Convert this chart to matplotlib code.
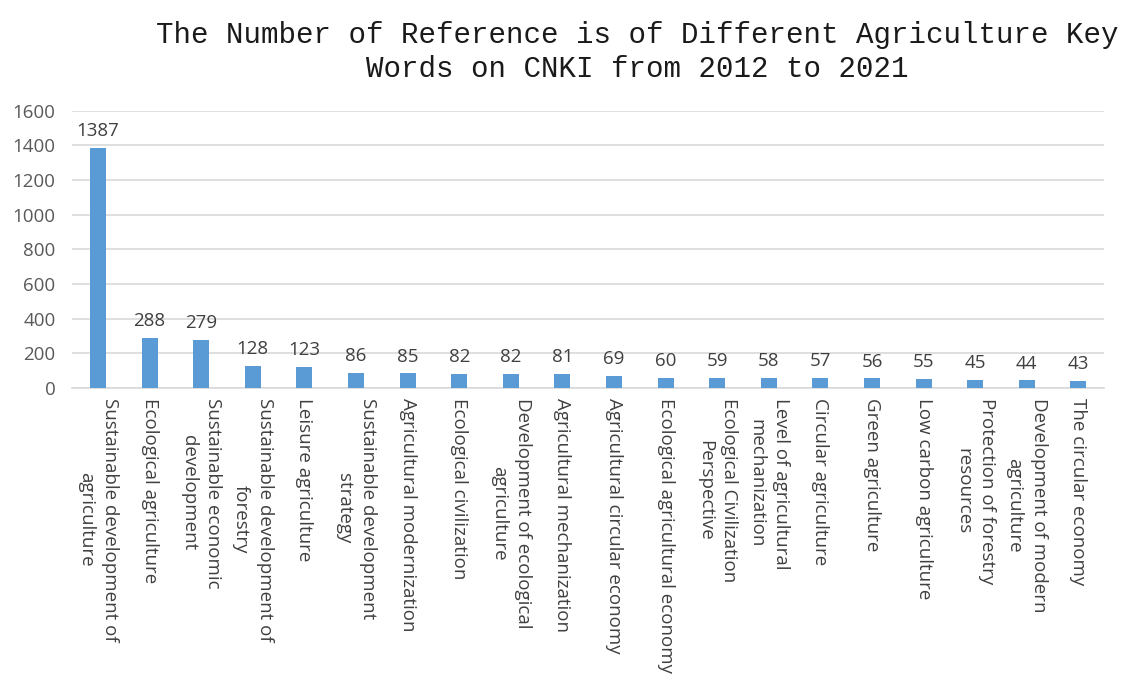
import matplotlib
matplotlib.use("Agg")
import matplotlib.pyplot as plt

# data
keywords = [
    "Sustainable development of\nagriculture",
    "Ecological agriculture",
    "Sustainable economic\ndevelopment",
    "Sustainable development of\nforestry",
    "Leisure agriculture",
    "Sustainable development\nstrategy",
    "Agricultural modernization",
    "Ecological civilization",
    "Development of ecological\nagriculture",
    "Agricultural mechanization",
    "Agricultural circular economy",
    "Ecological agricultural economy",
    "Ecological Civilization\nPerspective",
    "Level of agricultural\nmechanization",
    "Circular agriculture",
    "Green agriculture",
    "Low carbon agriculture",
    "Protection of forestry\nresources",
    "Development of modern\nagriculture",
    "The circular economy",
]
counts = [1387, 288, 279, 128, 123, 86, 85, 82, 82, 81, 69, 60, 59, 58, 57, 56, 55, 45, 44, 43]
y_ticks = [0, 200, 400, 600, 800, 1000, 1200, 1400, 1600]

label_font = "Open Sans"

fig = plt.figure(figsize=(11.29, 6.88), dpi=100)
ax = fig.add_axes([0.064, 0.436, 0.914, 0.403])

x = range(len(counts))
bars = ax.bar(x, counts, width=0.31, color="#5B9BD5", zorder=3)

for b, v in zip(bars, counts):
    ax.text(b.get_x() + b.get_width() / 2, v + 45, str(v), ha="center", va="bottom",
            fontsize=13.5, color="#404040", family=label_font)

ax.set_xlim(-0.5, len(counts) - 0.5)
ax.set_ylim(0, 1600)
ax.set_yticks(y_ticks)
ax.set_yticklabels([str(t) for t in y_ticks], fontsize=13.5, color="#595959", family=label_font)
ax.set_xticks(list(x))
ax.set_xticklabels(keywords, rotation=270, ha="center", va="top", multialignment="center",
                   fontsize=13.5, color="#404040", family=label_font, linespacing=1.45)
ax.tick_params(axis="both", length=0)
ax.tick_params(axis="x", pad=7)
ax.tick_params(axis="y", pad=12)

ax.grid(axis="y", color="#D9D9D9", linewidth=1.2, zorder=0)
for s in ["top", "right", "left"]:
    ax.spines[s].set_visible(False)
ax.spines["bottom"].set_color("#D9D9D9")
ax.spines["bottom"].set_linewidth(1.2)

fig.text(0.564, 0.97, "The Number of Reference is of Different Agriculture Key\nWords on CNKI from 2012 to 2021",
         ha="center", va="top", fontsize=21, family="Liberation Mono", color="#1a1a1a",
         linespacing=1.3)

fig.savefig("out.png", dpi=100)
